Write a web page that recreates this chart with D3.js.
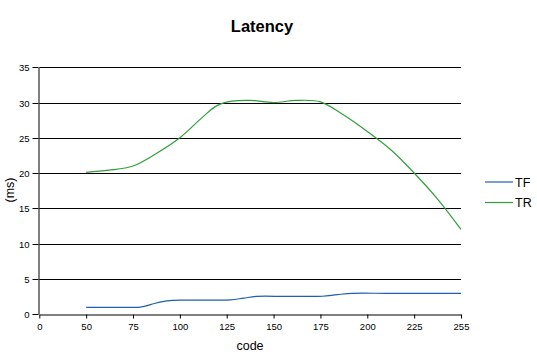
<!DOCTYPE html>
<html><head><meta charset="utf-8">
<script src="https://cdn.jsdelivr.net/npm/d3@7"></script>
<style>body{margin:0;background:#fff;}svg{display:block;font-family:"Liberation Sans",Arial,sans-serif;}</style>
</head><body>
<script>
const xTicks = [0, 50, 75, 100, 125, 150, 175, 200, 225, 255];
const yTicks = [0, 5, 10, 15, 20, 25, 30, 35];
const seriesNames = ["TF", "TR"];
const seriesColors = ["#1f5fae", "#2f9e3a"];
const tfCodes  = [50, 60, 70, 78, 82, 86, 90, 96, 105, 115, 127, 134, 141, 155, 165, 176, 184, 192, 210, 225, 240, 255];
const tfValues = [0.95, 0.95, 0.95, 0.95, 1.15, 1.45, 1.72, 1.94, 1.96, 1.97, 2.0, 2.25, 2.5, 2.5, 2.5, 2.52, 2.75, 2.93, 2.93, 2.93, 2.93, 2.93];
const trCodes  = [50, 62, 75, 87, 100, 112, 120, 128, 138, 150, 162, 175, 187, 200, 213, 225, 240, 255];
const trValues = [20.1, 20.4, 21.0, 22.7, 25.0, 27.9, 29.6, 30.2, 30.3, 30.0, 30.3, 30.1, 28.3, 25.9, 23.2, 20.0, 16.3, 12.0];

(function () {
const W = 537, H = 356;
const pLeft = 39.3, pRight = 461, pTop = 67.3, pBottom = 314;
const svg = d3.select("body").append("svg").attr("width", W).attr("height", H);

const step = (pRight - pLeft) / (xTicks.length - 1);
const x = d3.scaleLinear().domain(xTicks).range(xTicks.map((d, i) => pLeft + i * step));
const y = d3.scaleLinear().domain([0, 35]).range([pBottom, pTop]);

// gridlines
svg.append("g").selectAll("line").data(yTicks.filter(d => d > 0)).join("line")
  .attr("x1", pLeft).attr("x2", pRight)
  .attr("y1", d => Math.round(y(d)) + 0.5).attr("y2", d => Math.round(y(d)) + 0.5)
  .attr("stroke", "#000").attr("stroke-width", 1);

// y axis
const yAxis = svg.append("g").attr("transform", `translate(${Math.round(pLeft) - 0.5},0)`)
  .call(d3.axisLeft(y).tickValues(yTicks).tickSize(6).tickPadding(3).tickSizeOuter(0));
yAxis.selectAll("text").attr("font-size", 9.5).attr("fill", "#000").attr("font-family", "Liberation Sans, Arial, sans-serif");
yAxis.selectAll("line,path").attr("stroke", "#000");
yAxis.selectAll(".tick").attr("transform", d => `translate(0,${Math.round(y(d)) + 0.5})`);

// x axis
const xAxis = svg.append("g").attr("transform", `translate(0,${Math.round(pBottom) + 0.5})`)
  .call(d3.axisBottom(x).tickValues(xTicks).tickFormat(d => d).tickSize(4).tickPadding(5).tickSizeOuter(0));
xAxis.selectAll("text").attr("font-size", 9.5).attr("fill", "#000").attr("font-family", "Liberation Sans, Arial, sans-serif");
xAxis.selectAll("line,path").attr("stroke", "#000");

// lines
const series = [
  {codes: tfCodes, values: tfValues},
  {codes: trCodes, values: trValues}
];
const line = d3.line().x(d => x(d[0])).y(d => y(d[1])).curve(d3.curveCatmullRom.alpha(0.5));
series.forEach((s, i) => {
  svg.append("path").datum(s.codes.map((c, j) => [c, s.values[j]]))
    .attr("d", line).attr("fill", "none").attr("stroke", seriesColors[i]).attr("stroke-width", 1.2);
});

// title
svg.append("text").attr("x", 262).attr("y", 32).attr("text-anchor", "middle")
  .attr("font-size", 16.5).attr("font-weight", "bold").text("Latency");

// axis titles
svg.append("text").attr("x", 250).attr("y", 350).attr("text-anchor", "middle")
  .attr("font-size", 12.5).text("code");
svg.append("text").attr("transform", "translate(14,190) rotate(-90)").attr("text-anchor", "middle")
  .attr("font-size", 12.5).text("(ms)");

// legend
seriesNames.forEach((n, i) => {
  const ly = 182 + i * 20.5;
  svg.append("line").attr("x1", 485).attr("x2", 513).attr("y1", ly).attr("y2", ly)
    .attr("stroke", seriesColors[i]).attr("stroke-width", 1.2);
  svg.append("text").attr("x", 515).attr("y", ly + 4.5).attr("font-size", 12.5).text(n);
});
})();
</script>
</body></html>
